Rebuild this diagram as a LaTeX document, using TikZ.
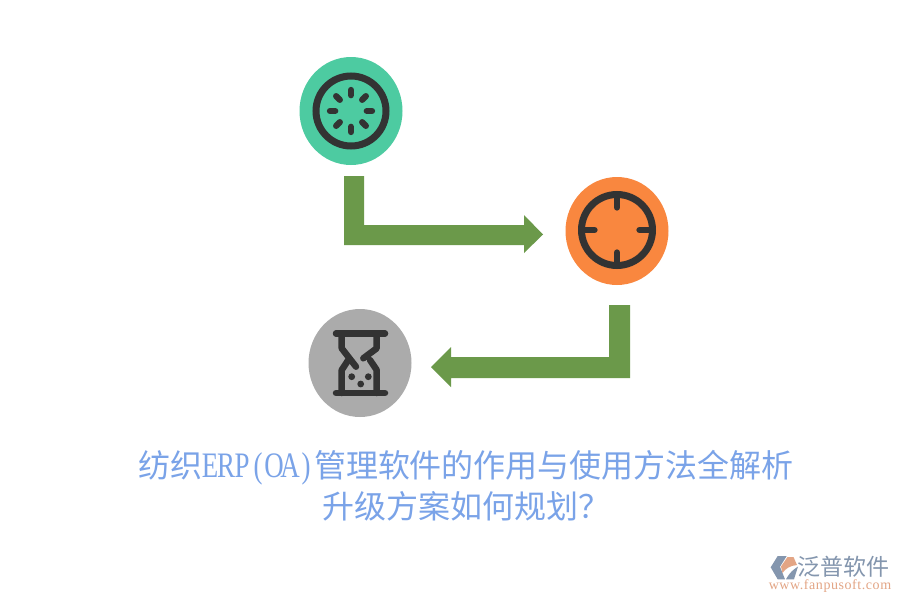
\documentclass[tikz,border=0pt]{standalone}
\usepackage{fontspec}
\usepackage{graphicx}
\newfontfamily\cjk{Noto Sans CJK SC}
\newfontfamily\latinserif[LetterSpace=4]{Liberation Serif}
\newfontfamily\halfserif{Liberation Serif}
\newcommand\hw[1]{\makebox[16pt]{\scalebox{.84}[1.12]{\halfserif #1}}}
\definecolor{dark}{HTML}{333333}
\definecolor{mint}{HTML}{4DCBA1}
\definecolor{tang}{HTML}{F9873F}
\definecolor{stone}{HTML}{ABABAB}
\definecolor{leaf}{HTML}{6B994A}
\definecolor{titleblue}{HTML}{7AA3E8}
\definecolor{logoblue}{HTML}{8496AE}
\definecolor{logotan}{HTML}{E3A585}
\usetikzlibrary{shapes.geometric,calc}
\tikzset{
  disc/.style={ellipse,minimum width=103pt,minimum height=108pt,inner sep=0pt,draw=none},
  ring/.style={draw=dark,line width=7pt},
  tick/.style={draw=dark,line width=6.3pt,line cap=round},
  glassline/.style={draw=dark,line width=6.5pt,line cap=round,line join=round},
  bendarrow/.style={fill=leaf,draw=none},
  titletext/.style={text=titleblue,align=center,inner sep=0pt,font=\cjk\fontsize{32}{41}\selectfont},
}
\begin{document}
\begin{tikzpicture}[x=1pt,y=-1pt]
\useasboundingbox[fill=white] (0,0) rectangle (900,600);
% discs
\node[disc,fill=mint] (green) at (351,111) {};
\node[disc,fill=tang] (orange) at (617,231) {};
\node[disc,fill=stone] (gray) at (360,363) {};
% green icon
\draw[ring] (green.center) circle[radius=35];
\foreach \a in {0,45,...,315}
  \draw[tick] ($(green.center)+(\a:15.8)$) -- ($(green.center)+(\a:21)$);
% orange icon
\draw[ring] (617,230) circle[radius=35.5];
\foreach \a in {0,90,180,270}
  \draw[tick] ($(617,230)+(\a:35)$) -- ($(617,230)+(\a:22.5)$);
% hourglass
\draw[glassline] (336,333.5) -- (385,333.5);
\draw[glassline] (336,393) -- (385,393);
\draw[glassline] (341.7,334) -- (341.7,348.3) -- (356,366.7);
\draw[glassline] (348.3,360) -- (341.7,370) -- (341.7,393);
\draw[glassline] (376.7,334) -- (376.7,348.3) -- (363.3,358.3);
\draw[glassline] (370,360) -- (376.7,370) -- (376.7,393);
\fill[dark] (351.7,376.7) circle[radius=3.4] (368.3,376.7) circle[radius=3.4] (360.7,384) circle[radius=3.4];
% arrows
\fill[bendarrow] (344,176) -- (364,176) -- (364,225) -- (524,225) -- (524,215) -- (543,234.5) -- (524,253) -- (524,245) -- (344,245) -- cycle;
\fill[bendarrow] (630,305) -- (609,305) -- (609,357) -- (451,357) -- (451,347) -- (431,367) -- (451,387) -- (451,378) -- (630,378) -- cycle;
% title
\node[titletext,anchor=center] (title) at (466,486) {纺织\hw{E}\hw{R}\hw{P}\hw{(}\hw{O}\hw{A}\hw{)}管理软件的作用与使用方法全解析\\升级方案如何规划？};
% logo
\fill[logoblue] (777.7,556) -- (786.7,556) -- (780,566.7) -- (785,579.3) -- (777.7,579.3) -- (770.7,567.3) -- cycle;
\fill[logoblue] (786,579.3) .. controls (790,572) and (793,570) .. (798,566.5) -- (794,579.3) -- cycle;
\fill[logotan] (787.5,557) -- (793.5,557) -- (797,565) .. controls (790,565.5) and (785,569) .. (782.5,573) -- (781,566.5) -- cycle;
\node[inner sep=0pt,anchor=center,text=logoblue,font=\cjk\fontsize{23}{24}\selectfont] (brand) at (843,567) {泛普软件};
\node[inner sep=0pt,anchor=base,text=logotan,font=\latinserif\fontsize{14}{15}\selectfont] (url) at (830,589) {www.fanpusoft.com};
\end{tikzpicture}
\end{document}
